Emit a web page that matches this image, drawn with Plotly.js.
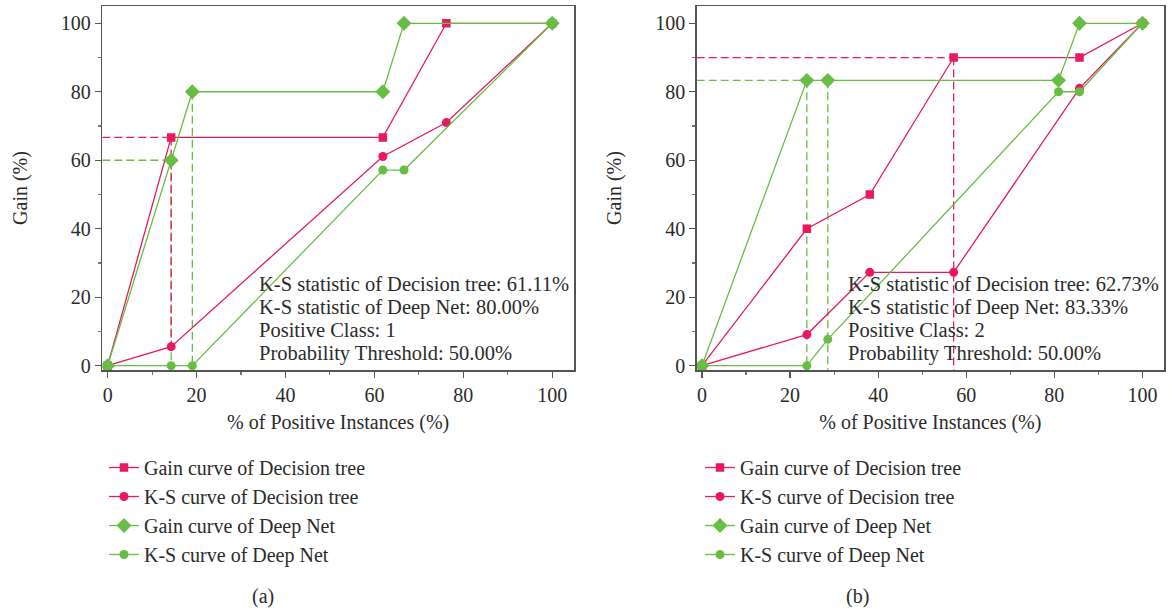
<!DOCTYPE html>
<html>
<head>
<meta charset="utf-8">
<script src="https://cdn.plot.ly/plotly-3.0.1.min.js"></script>
<style>
  html, body { margin: 0; padding: 0; background: #fff; }
  #chart { width: 1170px; height: 609px; }
</style>
</head>
<body>
<div id="chart"></div>
<script>
// ---- Panel (a): positive class 1 ----
const xGainTreeA = [0, 14.29, 61.9, 76.19, 100];
const yGainTreeA = [0, 66.67, 66.67, 100, 100];
const xKsTreeA   = [0, 14.29, 61.9, 76.19, 100];
const yKsTreeA   = [0, 5.56, 61.11, 71, 100];
const xGainNetA  = [0, 14.29, 19.05, 61.9, 66.67, 100];
const yGainNetA  = [0, 60, 80, 80, 100, 100];
const xKsNetA    = [0, 14.29, 19.05, 61.9, 66.67, 100];
const yKsNetA    = [0, 0, 0, 57.14, 57.14, 100];

// ---- Panel (b): positive class 2 ----
const xGainTreeB = [0, 23.81, 38.1, 57.14, 85.71, 100];
const yGainTreeB = [0, 40, 50, 90, 90, 100];
const xKsTreeB   = [0, 23.81, 38.1, 57.14, 85.71, 100];
const yKsTreeB   = [0, 9.09, 27.27, 27.27, 81, 100];
const xGainNetB  = [0, 23.81, 28.57, 80.95, 85.71, 100];
const yGainNetB  = [0, 83.33, 83.33, 83.33, 100, 100];
const xKsNetB    = [0, 23.81, 28.57, 80.95, 85.71, 100];
const yKsNetB    = [0, 0, 7.7, 80, 80, 100];

const seriesNames = [
  'Gain curve of Decision tree',
  'K-S curve of Decision tree',
  'Gain curve of Deep Net',
  'K-S curve of Deep Net'
];

const statsA = [
  'K-S statistic of Decision tree: 61.11%',
  'K-S statistic of Deep Net: 80.00%',
  'Positive Class: 1',
  'Probability Threshold: 50.00%'
];
const statsB = [
  'K-S statistic of Decision tree: 62.73%',
  'K-S statistic of Deep Net: 83.33%',
  'Positive Class: 2',
  'Probability Threshold: 50.00%'
];

const RED = '#e8195c';
const GREEN = '#68bd45';
const FONT = '"Liberation Serif", "DejaVu Serif", serif';
const TEXT = '#2b2b2b';
const W = 1170, H = 609;
const px = v => v / W;           // horizontal pixel -> paper
const py = v => 1 - v / H;       // vertical pixel -> paper

const X_RANGE = [-1.2, 104.9];
const Y_RANGE = [-1.26, 105.05];

function curve(x, y, name, color, symbol, size, xa, ya, legendId, group) {
  return {
    x: x, y: y, name: name, type: 'scatter', mode: 'lines+markers',
    xaxis: xa, yaxis: ya, legend: legendId, legendgroup: group,
    line: {color: color, width: 1.3},
    marker: {color: color, symbol: symbol, size: size},
    hoverinfo: 'x+y'
  };
}

function guide(x, y, color, xa, ya) {
  return {
    x: x, y: y, type: 'scatter', mode: 'lines', showlegend: false,
    xaxis: xa, yaxis: ya, hoverinfo: 'skip',
    line: {color: color, width: 1.3, dash: '8px,4px'}
  };
}

const traces = [];

function panel(xa, ya, legendId, d, g) {
  // K-S guides: drop from the gain curve to the K-S curve
  g.forEach(s => traces.push(guide(s.x, s.y, s.c, xa, ya)));
  traces.push(curve(d[0], d[1], seriesNames[0], RED, 'square', 8.5, xa, ya, legendId, legendId + 'g1'));
  traces.push(curve(d[2], d[3], seriesNames[1], RED, 'circle', 9, xa, ya, legendId, legendId + 'g2'));
  traces.push(curve(d[4], d[5], seriesNames[2], GREEN, 'diamond', 11.5, xa, ya, legendId, legendId + 'g3'));
  traces.push(curve(d[6], d[7], seriesNames[3], GREEN, 'circle', 9, xa, ya, legendId, legendId + 'g4'));
}

panel('x', 'y', 'legend',
  [xGainTreeA, yGainTreeA, xKsTreeA, yKsTreeA, xGainNetA, yGainNetA, xKsNetA, yKsNetA],
  [
    {x: [X_RANGE[0], xGainTreeA[1]], y: [yGainTreeA[1], yGainTreeA[1]], c: RED},
    {x: [xGainNetA[1], xKsNetA[1]], y: [yGainNetA[1], yKsNetA[1]], c: GREEN},
    {x: [xGainTreeA[1], xKsTreeA[1]], y: [yGainTreeA[1], yKsTreeA[1]], c: RED},
    {x: [X_RANGE[0], xGainNetA[1]], y: [yGainNetA[1], yGainNetA[1]], c: GREEN},
    {x: [xGainNetA[2], xKsNetA[2]], y: [yGainNetA[2], yKsNetA[2]], c: GREEN}
  ]);

panel('x2', 'y2', 'legend2',
  [xGainTreeB, yGainTreeB, xKsTreeB, yKsTreeB, xGainNetB, yGainNetB, xKsNetB, yKsNetB],
  [
    {x: [X_RANGE[0], xGainTreeB[3]], y: [yGainTreeB[3], yGainTreeB[3]], c: RED},
    {x: [xGainTreeB[3], xGainTreeB[3]], y: [yGainTreeB[3], Y_RANGE[0]], c: RED},
    {x: [X_RANGE[0], xGainNetB[1]], y: [yGainNetB[1], yGainNetB[1]], c: GREEN},
    {x: [xGainNetB[1], xKsNetB[1]], y: [yGainNetB[1], yKsNetB[1]], c: GREEN},
    {x: [xGainNetB[2], xGainNetB[2]], y: [yGainNetB[2], Y_RANGE[0]], c: GREEN}
  ]);

function xAxis(domain, anchor) {
  return {
    domain: domain, anchor: anchor, range: X_RANGE,
    showgrid: false, zeroline: false,
    showline: true, mirror: true, linecolor: '#555', linewidth: 1.5,
    ticks: 'outside', ticklen: 6, tickwidth: 1.3, tickcolor: '#555',
    tick0: 0, dtick: 20,
    minor: {ticks: 'outside', ticklen: 3, tickwidth: 1.1, tickcolor: '#777', dtick: 10, tick0: 0},
    tickfont: {family: FONT, size: 20, color: TEXT},
    title: {text: '% of Positive Instances (%)', font: {family: FONT, size: 20, color: TEXT}, standoff: 10}
  };
}
function yAxis(domain, anchor) {
  return {
    domain: domain, anchor: anchor, range: Y_RANGE,
    showgrid: false, zeroline: false,
    showline: true, mirror: true, linecolor: '#555', linewidth: 1.5,
    ticks: 'outside', ticklen: 6, tickwidth: 1.3, tickcolor: '#555',
    tick0: 0, dtick: 20,
    minor: {ticks: 'outside', ticklen: 3, tickwidth: 1.1, tickcolor: '#777', dtick: 10, tick0: 0},
    tickfont: {family: FONT, size: 20, color: TEXT},
    title: {text: 'Gain (%)', font: {family: FONT, size: 20, color: TEXT}, standoff: 28}
  };
}

const yDom = [py(370), py(6)];

function statNotes(lines, left) {
  return lines.map((t, i) => ({
    text: t, xref: 'paper', yref: 'paper',
    x: px(left), y: py(284 + i * 23), xanchor: 'left', yanchor: 'middle',
    showarrow: false, font: {family: FONT, size: 20.5, color: TEXT}
  }));
}

function legendBox(left) {
  return {
    x: px(left), y: py(448), xanchor: 'left', yanchor: 'top',
    bgcolor: 'rgba(0,0,0,0)', borderwidth: 0,
    font: {family: FONT, size: 20, color: TEXT},
    traceorder: 'grouped', tracegroupgap: 0, itemclick: false, itemdoubleclick: false
  };
}

const layout = {
  width: W, height: H,
  margin: {l: 0, r: 0, t: 0, b: 0},
  paper_bgcolor: '#fff', plot_bgcolor: '#fff',
  font: {family: FONT, color: TEXT},
  xaxis: xAxis([px(102.3), px(574)], 'y'),
  yaxis: yAxis(yDom, 'x'),
  xaxis2: xAxis([px(696.7), px(1164)], 'y2'),
  yaxis2: yAxis(yDom, 'x2'),
  legend: legendBox(104),
  legend2: legendBox(700),
  annotations: [
    ...statNotes(statsA, 257),
    ...statNotes(statsB, 846),
    {text: '(a)', xref: 'paper', yref: 'paper', x: px(263), y: py(596), xanchor: 'center', yanchor: 'middle',
     showarrow: false, font: {family: FONT, size: 20, color: TEXT}},
    {text: '(b)', xref: 'paper', yref: 'paper', x: px(858), y: py(596), xanchor: 'center', yanchor: 'middle',
     showarrow: false, font: {family: FONT, size: 20, color: TEXT}}
  ],
  showlegend: true
};

Plotly.newPlot('chart', traces, layout, {displayModeBar: false, staticPlot: true});
</script>
</body>
</html>
